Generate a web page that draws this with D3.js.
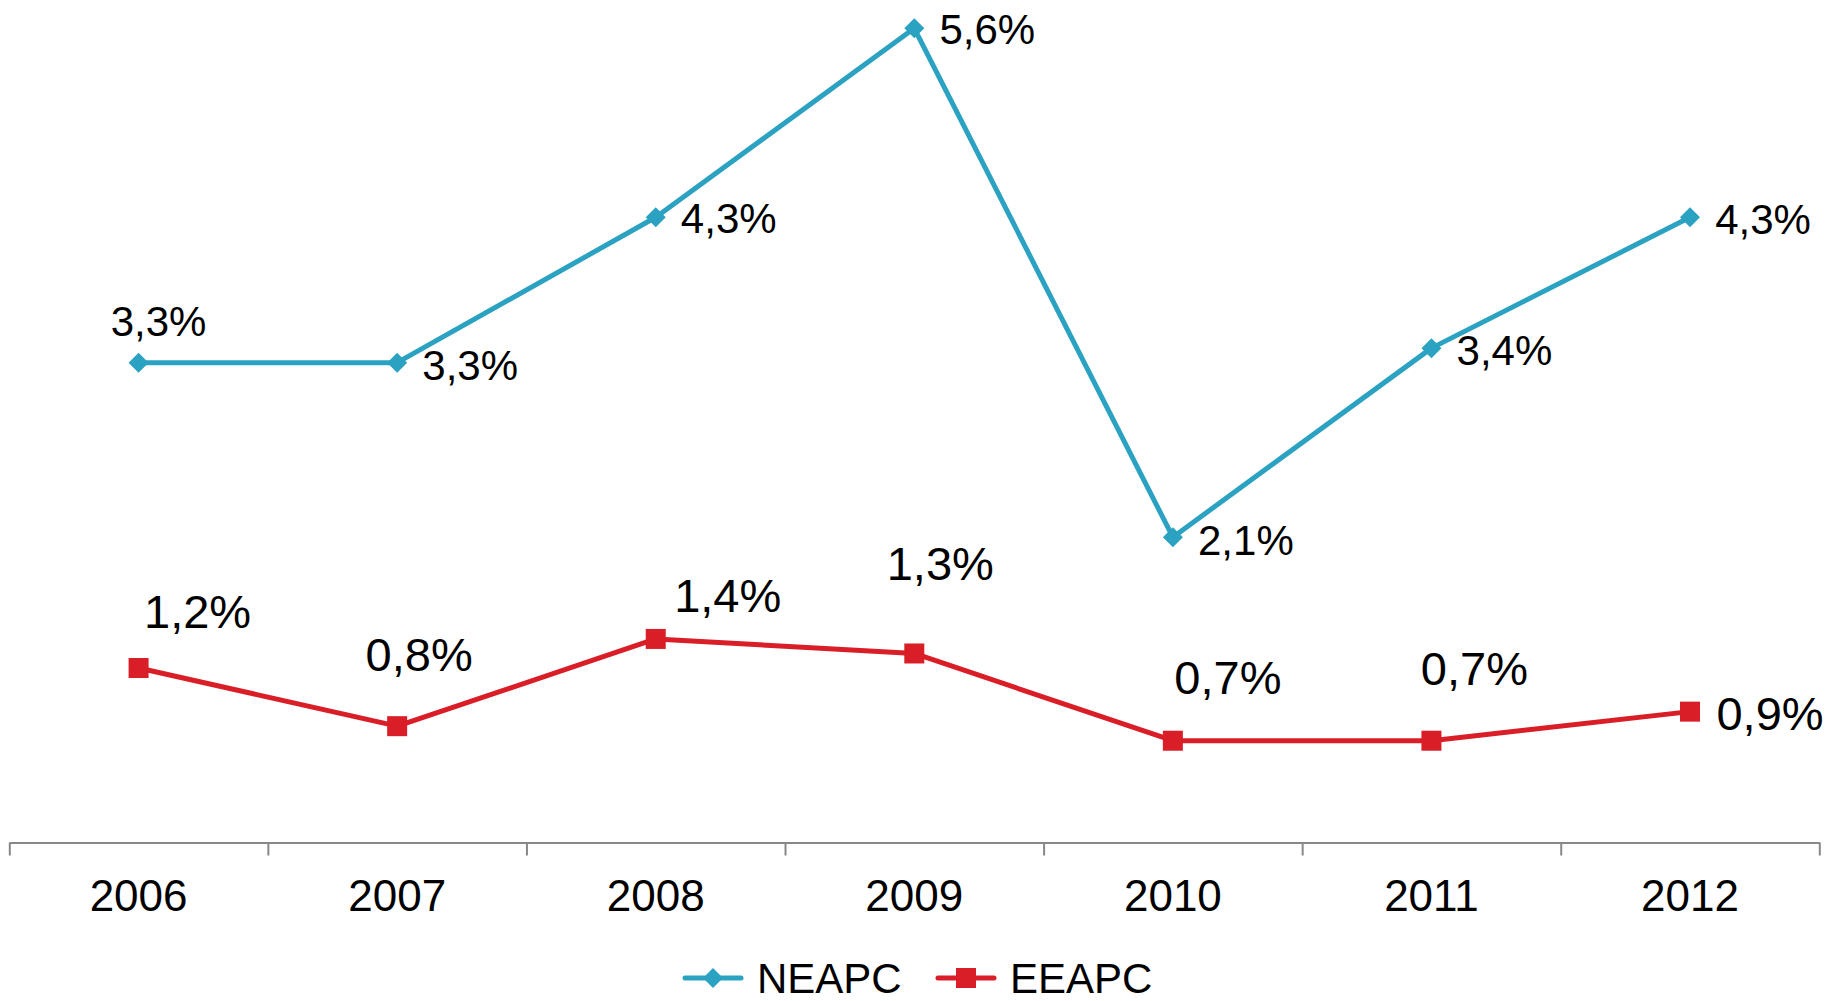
<!doctype html>
<html lang="pt">
<head>
<meta charset="utf-8">
<title>NEAPC / EEAPC 2006-2012</title>
<style>
  body { margin: 0; background: #fff; }
  svg { display: block; font-family: "Liberation Sans", Arial, Helvetica, sans-serif; }
  .axis path, .axis line { stroke: #888; stroke-width: 2px; }
  .axis text { fill: #000; }
</style>
</head>
<body>
<svg width="1826" height="1001"></svg>
<script src="https://cdn.jsdelivr.net/npm/d3@7"></script>
<script>
// data
var years = ["2006", "2007", "2008", "2009", "2010", "2011", "2012"];
var neapc = [3.3, 3.3, 4.3, 5.6, 2.1, 3.4, 4.3];
var eeapc = [1.2, 0.8, 1.4, 1.3, 0.7, 0.7, 0.9];
var seriesNames = ["NEAPC", "EEAPC"];

// label offsets (px) from each point, as placed in the original
var neapcLabelShift = [[20, -42], [73, 2], [73, 1], [73, 1], [73, 3], [73, 2], [73, 2]];
var eeapcLabelShift = [[59, -57], [22, -72], [72, -44], [26, -90], [55, -64], [43, -73], [80, 1]];

var blue = "#2ba2c1", red = "#d91e28";

var svg = d3.select("svg");

var x = d3.scaleBand().domain(years).range([9.3, 1819.3]);
var xEdge = d3.scaleLinear().domain([0, years.length]).range([9.3, 1819.3]);
var y = d3.scaleLinear().domain([0, 6]).range([842.5, 842.5 - 6 * 145.4]);

function cx(d, i) { return x(years[i]) + x.bandwidth() / 2; }

// category axis: tick marks between categories
svg.append("g")
  .attr("class", "axis")
  .attr("transform", "translate(0," + y(0) + ")")
  .call(d3.axisBottom(xEdge).tickValues(d3.range(years.length + 1))
    .tickFormat("").tickSizeInner(13).tickSizeOuter(0));

// category labels
var lab = svg.append("g")
  .attr("transform", "translate(0," + y(0) + ")")
  .call(d3.axisBottom(x).tickSize(0).tickPadding(37));
lab.select(".domain").remove();
lab.selectAll("text").attr("font-size", 44).attr("font-family", "Liberation Sans, Arial, sans-serif").attr("fill", "#000");

var line = d3.line().x(cx).y(function (d) { return y(d); });

// NEAPC
svg.append("path").datum(neapc)
  .attr("fill", "none").attr("stroke", blue).attr("stroke-width", 5)
  .attr("stroke-linejoin", "round").attr("d", line);
svg.selectAll(".dia").data(neapc).enter().append("path")
  .attr("class", "dia")
  .attr("d", d3.symbol(d3.symbolSquare, 200))
  .attr("fill", blue)
  .attr("transform", function (d, i) { return "translate(" + cx(d, i) + "," + y(d) + ") rotate(45)"; });

// EEAPC
svg.append("path").datum(eeapc)
  .attr("fill", "none").attr("stroke", red).attr("stroke-width", 5)
  .attr("stroke-linejoin", "round").attr("d", line);
svg.selectAll(".sq").data(eeapc).enter().append("rect")
  .attr("class", "sq")
  .attr("x", function (d, i) { return cx(d, i) - 10; })
  .attr("y", function (d) { return y(d) - 10; })
  .attr("width", 20).attr("height", 20)
  .attr("fill", red);

function fmt(v) { return v.toFixed(1).replace(".", ",") + "%"; }

svg.selectAll(".nl").data(neapc).enter().append("text")
  .attr("class", "nl")
  .attr("x", function (d, i) { return cx(d, i) + neapcLabelShift[i][0]; })
  .attr("y", function (d, i) { return y(d) + neapcLabelShift[i][1]; })
  .attr("text-anchor", "middle").attr("dy", "0.36em")
  .attr("font-size", 42)
  .text(fmt);

svg.selectAll(".el").data(eeapc).enter().append("text")
  .attr("class", "el")
  .attr("x", function (d, i) { return cx(d, i) + eeapcLabelShift[i][0]; })
  .attr("y", function (d, i) { return y(d) + eeapcLabelShift[i][1]; })
  .attr("text-anchor", "middle").attr("dy", "0.36em")
  .attr("font-size", 47)
  .text(fmt);

// legend
var legend = svg.append("g").attr("transform", "translate(0,978)");
var lx = [685, 938];
seriesNames.forEach(function (name, i) {
  var g = legend.append("g").attr("transform", "translate(" + lx[i] + ",0)");
  var c = i === 0 ? blue : red;
  g.append("line").attr("x1", 0).attr("x2", 56).attr("y1", 0).attr("y2", 0)
    .attr("stroke", c).attr("stroke-width", 5).attr("stroke-linecap", "round");
  if (i === 0) {
    g.append("path").attr("d", d3.symbol(d3.symbolSquare, 200))
      .attr("transform", "translate(28,0) rotate(45)").attr("fill", c);
  } else {
    g.append("rect").attr("x", 18).attr("y", -10).attr("width", 20).attr("height", 20).attr("fill", c);
  }
  g.append("text").attr("x", 72).attr("dy", "0.36em").attr("font-size", 42).text(name);
});
</script>
</body>
</html>
